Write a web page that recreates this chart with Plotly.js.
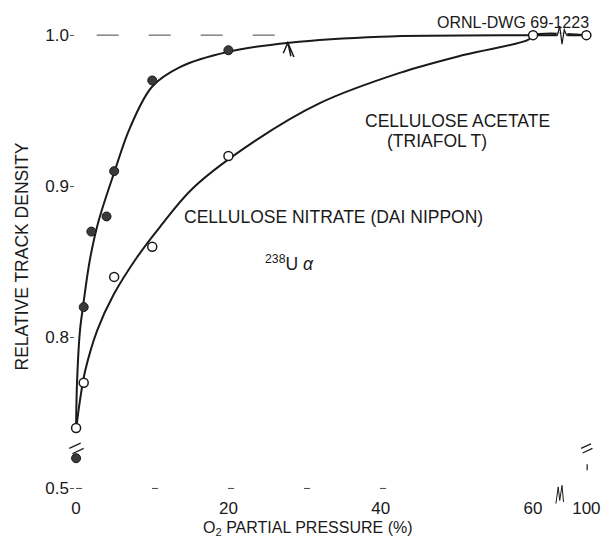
<!DOCTYPE html>
<html>
<head>
<meta charset="utf-8">
<script src="https://cdn.plot.ly/plotly-3.0.1.min.js"></script>
<style>html,body{margin:0;padding:0;background:#fff;}#chart{width:605px;height:542px;}</style>
</head>
<body>
<div id="chart"></div>
<script>
// ---- data (true values) ----
const xTickVals = [0, 20, 40, 60, 100];
const xTickText = ["0", "20", "40", "60", "100"];
const yTickVals = [0.5, 0.8, 0.9, 1.0];
const yTickText = ["0.5", "0.8", "0.9", "1.0"];

// filled-circle series (measured points)
const filledX = [0, 1, 2, 4, 5, 10, 20];
const filledY = [0.52, 0.82, 0.87, 0.88, 0.91, 0.97, 0.99];
// open-circle series (measured points)
const openX = [0, 1, 5, 10, 20, 60, 100];
const openY = [0.74, 0.77, 0.84, 0.86, 0.92, 1.0, 1.0];

// hand-drawn fitted curves
const filledCurveX = [0, 0.13, 0.5, 0.9, 1.8, 2.9, 5, 7.1, 10, 13.7, 20, 28, 40, 60, 100];
const filledCurveY = [0.742, 0.771, 0.804, 0.82, 0.851, 0.876, 0.909, 0.939, 0.966, 0.979, 0.989, 0.995, 0.999, 1.0, 1.0];
const openCurveX = [0, 0.5, 1.2, 2.8, 4.9, 8, 11, 15.4, 23.5, 32, 42.5, 51, 59.4, 60, 100];
const openCurveY = [0.739, 0.758, 0.778, 0.805, 0.828, 0.853, 0.873, 0.899, 0.93, 0.955, 0.975, 0.987, 0.997, 1.0, 1.0];

// ---- broken axes: 60..100 compressed on x, values below the break shifted up on y ----
const X_BREAK = 60, X_SCALE = 0.175;
const Y_BREAK = 0.72, Y_SHIFT = 0.2;
const bx = v => v <= X_BREAK ? v : X_BREAK + (v - X_BREAK) * X_SCALE;
const by = v => v >= Y_BREAK ? v : v + Y_SHIFT;

const XR = [-0.8, 68], YR = [0.695, 1.012];
const px = xd => (xd - XR[0]) / (XR[1] - XR[0]);
const py = yd => (yd - YR[0]) / (YR[1] - YR[0]);

const FONT = "Liberation Sans, Arial, sans-serif";
const INK = "#1a1a1a";

const traces = [
  {x: filledCurveX.map(bx), y: filledCurveY.map(by), mode: "lines", type: "scatter",
   line: {color: INK, width: 2, shape: "spline", smoothing: 1}, hoverinfo: "skip", showlegend: false},
  {x: openCurveX.map(bx), y: openCurveY.map(by), mode: "lines", type: "scatter",
   line: {color: INK, width: 2, shape: "spline", smoothing: 1}, hoverinfo: "skip", showlegend: false},
  {x: filledX.map(bx), y: filledY.map(by), mode: "markers", type: "scatter", name: "filled",
   marker: {size: 9, color: "#3a3a3a", line: {color: INK, width: 1}}, showlegend: false},
  {x: openX.map(bx), y: openY.map(by), mode: "markers", type: "scatter", name: "open",
   marker: {size: 9, color: "#ffffff", line: {color: INK, width: 1.5}}, showlegend: false}
];

// break marks (decoration) placed at the break locations
const xBreakD = 63.8;
const P = pts => "M" + pts.map(p => px(p[0]).toFixed(5) + "," + py(p[1]).toFixed(5)).join(" L");
const zig = (x0, y0, h) => P([[x0 - 1.3, y0], [x0 - 0.6, y0], [x0 - 0.3, y0 + h], [x0, y0 - h], [x0 + 0.3, y0 + h * 0.6], [x0 + 0.6, y0], [x0 + 1.3, y0]]);
const seg = (x0, y0, x1, y1, extra) => Object.assign({type: "line", xref: "paper", yref: "paper",
  x0: px(x0), y0: py(y0), x1: px(x1), y1: py(y1), line: {color: INK, width: 1.2}}, extra || {});

const shapes = [
  // dashed reference line at 1.0
  seg(2.7, 1.0, 28, 1.0, {line: {color: "#444", width: 1, dash: "22px,30px"}}),
  // dashed base line
  seg(0, by(0.5), 42, by(0.5), {line: {color: "#444", width: 1, dash: "6px,70px"}}),
  // gap + zigzag in top line
  seg(xBreakD - 0.7, 1.0, xBreakD + 0.7, 1.0, {line: {color: "#fff", width: 4}}),
  {type: "path", xref: "paper", yref: "paper", path: zig(xBreakD, 1.0, 0.006), line: {color: INK, width: 1.2}},
  // zigzag near x-axis
  {type: "path", xref: "paper", yref: "paper",
   path: P([[63.0, 0.690], [63.3, 0.701], [63.5, 0.692], [63.8, 0.702], [64.0, 0.691]]),
   line: {color: INK, width: 1}},
  // y-axis break marks
  seg(-0.9, 0.7265, 0.6, 0.7300),
  seg(-0.5, 0.7230, 1.0, 0.7265),
  // right-side break marks
  seg(66.3, 0.7265, 67.6, 0.7295),
  seg(66.5, 0.7235, 67.8, 0.7265),
  seg(67.1, 0.7120, 67.1, 0.7160),
  // small arrow pointing at the upper curve
  {type: "path", xref: "paper", yref: "paper",
   path: P([[28.6, 0.9855], [27.8, 0.9950], [27.2, 0.9880]]) + " M" + px(27.8).toFixed(5) + "," + py(0.995).toFixed(5) + " L" + px(28.2).toFixed(5) + "," + py(0.986).toFixed(5),
   line: {color: INK, width: 1.5}}
];

const annotations = [
  {x: 47.1, y: 1.0086, xref: "x", yref: "y", xanchor: "left", yanchor: "middle", showarrow: false,
   text: "ORNL-DWG 69-1223", font: {family: FONT, size: 16, color: INK}},
  {x: 37.7, y: 0.943, xref: "x", yref: "y", xanchor: "left", yanchor: "middle", showarrow: false,
   text: "CELLULOSE ACETATE", font: {family: FONT, size: 17.5, color: INK}},
  {x: 40.6, y: 0.930, xref: "x", yref: "y", xanchor: "left", yanchor: "middle", showarrow: false,
   text: "(TRIAFOL T)", font: {family: FONT, size: 17.5, color: INK}},
  {x: 13.9, y: 0.8795, xref: "x", yref: "y", xanchor: "left", yanchor: "middle", showarrow: false,
   text: "CELLULOSE NITRATE (DAI NIPPON)", font: {family: FONT, size: 17.5, color: INK}},
  {x: 24.6, y: 0.849, xref: "x", yref: "y", xanchor: "left", yanchor: "middle", showarrow: false,
   text: "<sup>238</sup>U <i>α</i>", font: {family: FONT, size: 17.5, color: INK}},
  {x: px(30.5), y: py(0.6735), xref: "paper", yref: "paper", xanchor: "center", yanchor: "middle", showarrow: false,
   text: "O<sub>2</sub> PARTIAL PRESSURE (%)", font: {family: FONT, size: 16, color: INK}}
];

const layout = {
  width: 605, height: 542,
  margin: {l: 70, r: 11, t: 17, b: 46},
  paper_bgcolor: "#fff", plot_bgcolor: "#fff",
  font: {family: FONT, color: INK, size: 16},
  xaxis: {range: XR, showgrid: false, zeroline: false, showline: false,
    tickmode: "array", tickvals: xTickVals.map(bx), ticktext: xTickText, ticks: "",
    tickfont: {family: FONT, size: 17, color: INK}},
  yaxis: {range: YR, showgrid: false, zeroline: false, showline: false,
    tickmode: "array", tickvals: yTickVals.map(by), ticktext: yTickText,
    ticks: "inside", ticklen: 4, tickcolor: "#555", tickwidth: 1,
    tickfont: {family: FONT, size: 17, color: INK},
    title: {text: "RELATIVE TRACK DENSITY", font: {family: FONT, size: 17.5, color: INK}, standoff: 12}},
  shapes: shapes,
  annotations: annotations,
  showlegend: false
};

Plotly.newPlot("chart", traces, layout, {staticPlot: true, displayModeBar: false});
</script>
</body>
</html>
